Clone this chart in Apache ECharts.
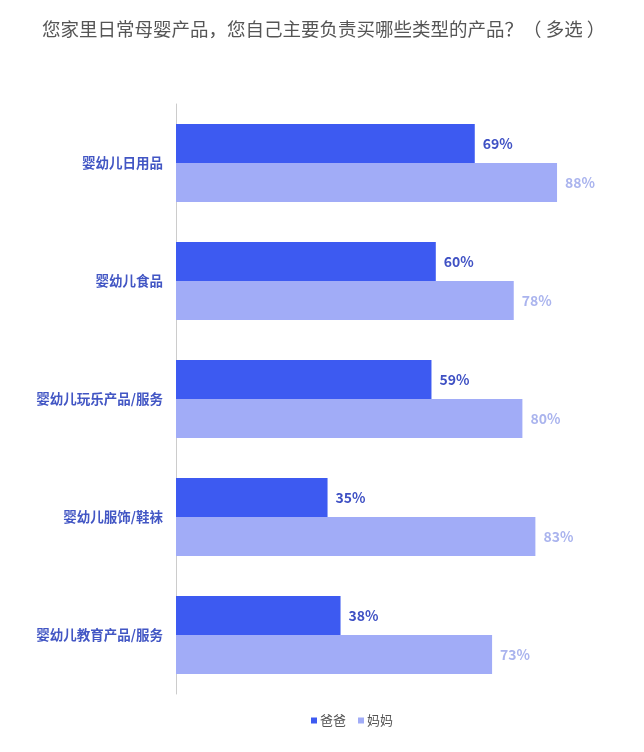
<!DOCTYPE html>
<html>
<head>
<meta charset="utf-8">
<script src="https://cdn.jsdelivr.net/npm/echarts@6/dist/echarts.min.js"></script>
<style>
  html, body { margin: 0; padding: 0; background: #fff; }
  #chart { width: 644px; height: 752px; }
</style>
</head>
<body>
<div id="chart"></div>
<script>
var categories = ['婴幼儿日用品', '婴幼儿食品', '婴幼儿玩乐产品/服务', '婴幼儿服饰/鞋袜', '婴幼儿教育产品/服务'];
var dadValues = [69, 60, 59, 35, 38];
var momValues = [88, 78, 80, 83, 73];
var seriesNames = ['爸爸', '妈妈'];

var font = '"Noto Sans CJK SC", "Noto Sans", sans-serif';

var option = {
  title: {
    text: '您家里日常母婴产品，您自己主要负责买哪些类型的产品？（ 多选 ）',
    left: 37,
    top: 15,
    textStyle: { fontSize: 18.5, fontWeight: 'normal', color: '#555', fontFamily: font }
  },
  legend: {
    data: seriesNames,
    left: 306,
    top: 709,
    itemWidth: 6,
    itemHeight: 6,
    itemGap: 12,
    icon: 'rect',
    textStyle: { fontSize: 13, color: '#555', fontFamily: font, padding: [0, 0, 0, -2] }
  },
  grid: { left: 176, right: 35, top: 104, bottom: 58, containLabel: false },
  xAxis: {
    type: 'value',
    min: 0,
    max: 100,
    show: false
  },
  yAxis: {
    type: 'category',
    inverse: true,
    data: categories,
    axisLine: { show: true, lineStyle: { color: '#ccc', width: 1 } },
    axisTick: { show: false },
    axisLabel: {
      margin: 13,
      fontSize: 13.5,
      fontWeight: 'bold',
      color: '#4256c4',
      fontFamily: font
    }
  },
  series: [
    {
      name: seriesNames[0],
      type: 'bar',
      data: dadValues,
      barGap: '0%',
      barCategoryGap: '34%',
      itemStyle: { color: '#3d5af1' },
      label: {
        show: true,
        position: 'right',
        distance: 8,
        formatter: '{c}%',
        fontSize: 14,
        fontWeight: 'bold',
        color: '#3f51c4',
        fontFamily: font
      }
    },
    {
      name: seriesNames[1],
      type: 'bar',
      data: momValues,
      itemStyle: { color: '#a1acf7' },
      label: {
        show: true,
        position: 'right',
        distance: 8,
        formatter: '{c}%',
        fontSize: 14,
        fontWeight: 'bold',
        color: '#aab4ee',
        fontFamily: font
      }
    }
  ]
};

echarts.init(document.getElementById('chart')).setOption(option);
</script>
</body>
</html>
